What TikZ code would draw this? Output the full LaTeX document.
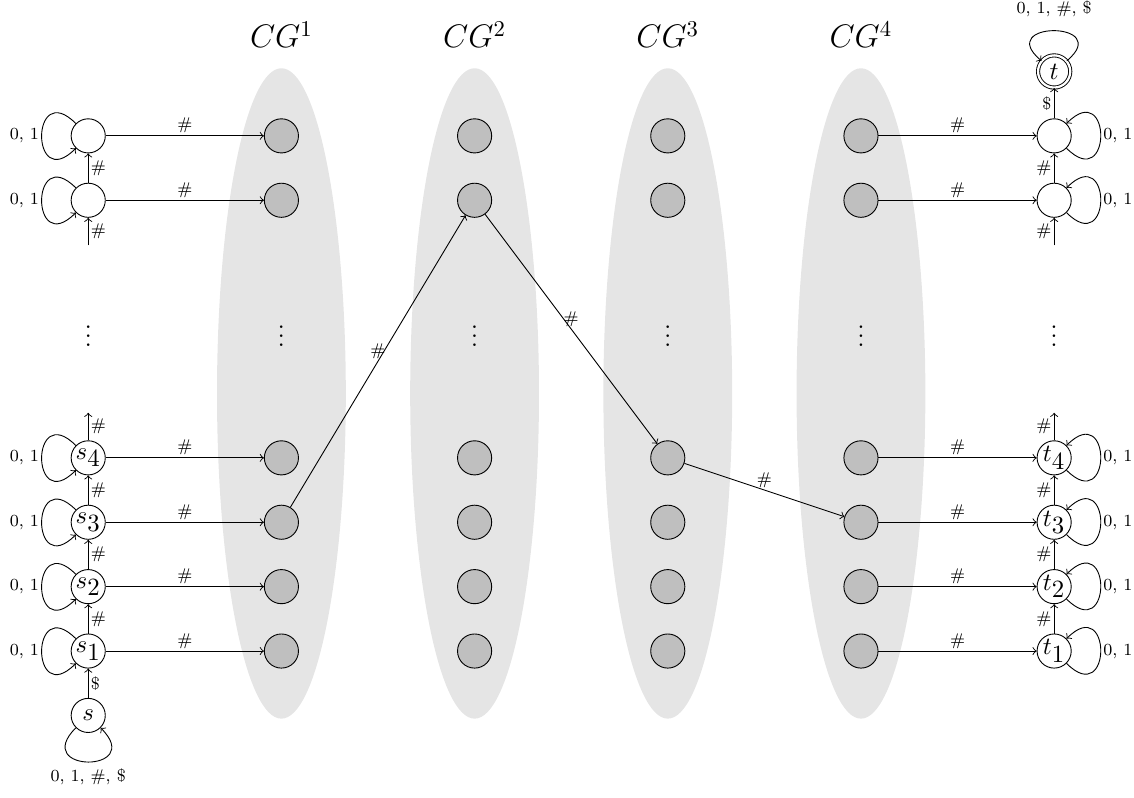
\documentclass[12pt,tikz,border=0pt]{standalone}
\tikzset{
	st/.style={circle, draw, minimum size=5.3mm, inner sep=0pt, font=\small},
	cg/.style={st, fill=gray!50},
	lab/.style={font=\fontsize{7.5}{9}\selectfont, inner sep=1pt},
}
\begin{document}
\begin{tikzpicture}
	%%%%% START %%%%%
	\useasboundingbox (-1.37, -1.27) rectangle (16.24, 11.11);
	
	\fill[gray!20] (3, 5) ellipse (1 and 5.05);
	\fill[gray!20] (6, 5) ellipse (1 and 5.05);
	\fill[gray!20] (9, 5) ellipse (1 and 5.05);
	\fill[gray!20] (12, 5) ellipse (1 and 5.05);
	
	\node[font=\large] (h1) at (3, 10.57) {$CG^1$};
	\node[font=\large] (h2) at (6, 10.57) {$CG^2$};
	\node[font=\large] (h3) at (9, 10.57) {$CG^3$};
	\node[font=\large] (h4) at (12, 10.57) {$CG^4$};
	
	%%%%% left states %%%%%
	\node[st] (s) at (0, 0) {$s$};
	\node[st] (s1) at (0, 1) {$s_{\textstyle 1}$};
	\node[st] (s2) at (0, 2) {$s_{\textstyle 2}$};
	\node[st] (s3) at (0, 3) {$s_{\textstyle 3}$};
	\node[st] (s4) at (0, 4) {$s_{\textstyle 4}$};
	\node (d0) at (0, 6) {$\vdots$};
	\node[st] (u8) at (0, 8) {};
	\node[st] (u9) at (0, 9) {};
	\coordinate (lo) at (0, 4.7);
	\coordinate (li) at (0, 7.3);
	
	\draw[->] (s) -- node[lab, right] {\$} (s1);
	\draw[->] (s1) -- node[lab, right] {\#} (s2);
	\draw[->] (s2) -- node[lab, right] {\#} (s3);
	\draw[->] (s3) -- node[lab, right] {\#} (s4);
	\draw[->] (s4) -- node[lab, right] {\#} (lo);
	\draw[->] (li) -- node[lab, right] {\#} (u8);
	\draw[->] (u8) -- node[lab, right] {\#} (u9);
	
	\draw[->] (s.225) .. controls +(225:1) and +(-45:1) .. (s.-45) node[lab, below=2pt, midway] {0, 1, \#, \$};
	\draw[->] (s1.135) .. controls +(135:1) and +(225:1) .. (s1.225) node[lab, left, midway] {0, 1};
	\draw[->] (s2.135) .. controls +(135:1) and +(225:1) .. (s2.225) node[lab, left, midway] {0, 1};
	\draw[->] (s3.135) .. controls +(135:1) and +(225:1) .. (s3.225) node[lab, left, midway] {0, 1};
	\draw[->] (s4.135) .. controls +(135:1) and +(225:1) .. (s4.225) node[lab, left, midway] {0, 1};
	\draw[->] (u8.135) .. controls +(135:1) and +(225:1) .. (u8.225) node[lab, left, midway] {0, 1};
	\draw[->] (u9.135) .. controls +(135:1) and +(225:1) .. (u9.225) node[lab, left, midway] {0, 1};
	
	%%%%% CG columns %%%%%
	\node[cg] (g11) at (3, 1) {};
	\node[cg] (g12) at (3, 2) {};
	\node[cg] (g13) at (3, 3) {};
	\node[cg] (g14) at (3, 4) {};
	\node (d1) at (3, 6) {$\vdots$};
	\node[cg] (g18) at (3, 8) {};
	\node[cg] (g19) at (3, 9) {};
	
	\node[cg] (g21) at (6, 1) {};
	\node[cg] (g22) at (6, 2) {};
	\node[cg] (g23) at (6, 3) {};
	\node[cg] (g24) at (6, 4) {};
	\node (d2) at (6, 6) {$\vdots$};
	\node[cg] (g28) at (6, 8) {};
	\node[cg] (g29) at (6, 9) {};
	
	\node[cg] (g31) at (9, 1) {};
	\node[cg] (g32) at (9, 2) {};
	\node[cg] (g33) at (9, 3) {};
	\node[cg] (g34) at (9, 4) {};
	\node (d3) at (9, 6) {$\vdots$};
	\node[cg] (g38) at (9, 8) {};
	\node[cg] (g39) at (9, 9) {};
	
	\node[cg] (g41) at (12, 1) {};
	\node[cg] (g42) at (12, 2) {};
	\node[cg] (g43) at (12, 3) {};
	\node[cg] (g44) at (12, 4) {};
	\node (d4) at (12, 6) {$\vdots$};
	\node[cg] (g48) at (12, 8) {};
	\node[cg] (g49) at (12, 9) {};
	
	%%%%% right states %%%%%
	\node[st] (t1) at (15, 1) {$t_{\textstyle 1}$};
	\node[st] (t2) at (15, 2) {$t_{\textstyle 2}$};
	\node[st] (t3) at (15, 3) {$t_{\textstyle 3}$};
	\node[st] (t4) at (15, 4) {$t_{\textstyle 4}$};
	\node (d5) at (15, 6) {$\vdots$};
	\node[st] (v8) at (15, 8) {};
	\node[st] (v9) at (15, 9) {};
	\node[st, minimum size=5mm, double, double distance=1pt] (t) at (15, 10) {$t$};
	\coordinate (ro) at (15, 4.7);
	\coordinate (ri) at (15, 7.3);
	
	\draw[->] (t1) -- node[lab, left] {\#} (t2);
	\draw[->] (t2) -- node[lab, left] {\#} (t3);
	\draw[->] (t3) -- node[lab, left] {\#} (t4);
	\draw[->] (t4) -- node[lab, left] {\#} (ro);
	\draw[->] (ri) -- node[lab, left] {\#} (v8);
	\draw[->] (v8) -- node[lab, left] {\#} (v9);
	\draw[->] (v9) -- node[lab, left] {\$} (t);
	
	\draw[->] (t1.-45) .. controls +(-45:1) and +(45:1) .. (t1.45) node[lab, right, midway] {0, 1};
	\draw[->] (t2.-45) .. controls +(-45:1) and +(45:1) .. (t2.45) node[lab, right, midway] {0, 1};
	\draw[->] (t3.-45) .. controls +(-45:1) and +(45:1) .. (t3.45) node[lab, right, midway] {0, 1};
	\draw[->] (t4.-45) .. controls +(-45:1) and +(45:1) .. (t4.45) node[lab, right, midway] {0, 1};
	\draw[->] (v8.-45) .. controls +(-45:1) and +(45:1) .. (v8.45) node[lab, right, midway] {0, 1};
	\draw[->] (v9.-45) .. controls +(-45:1) and +(45:1) .. (v9.45) node[lab, right, midway] {0, 1};
	\draw[->] (t.40) .. controls +(40:0.97) and +(140:0.97) .. (t.140) node[lab, above=5pt, midway] {0, 1, \#, \$};
	
	%%%%% into and out of the CGs %%%%%
	\draw[->] (s1) -- node[lab, above] {\#} (g11);
	\draw[->] (s2) -- node[lab, above] {\#} (g12);
	\draw[->] (s3) -- node[lab, above] {\#} (g13);
	\draw[->] (s4) -- node[lab, above] {\#} (g14);
	\draw[->] (u8) -- node[lab, above] {\#} (g18);
	\draw[->] (u9) -- node[lab, above] {\#} (g19);
	
	\draw[->] (g41) -- node[lab, above] {\#} (t1);
	\draw[->] (g42) -- node[lab, above] {\#} (t2);
	\draw[->] (g43) -- node[lab, above] {\#} (t3);
	\draw[->] (g44) -- node[lab, above] {\#} (t4);
	\draw[->] (g48) -- node[lab, above] {\#} (v8);
	\draw[->] (g49) -- node[lab, above] {\#} (v9);
	
	\draw[->] (g13) -- node[lab, above] {\#} (g28);
	\draw[->] (g28) -- node[lab, above] {\#} (g34);
	\draw[->] (g34) -- node[lab, above] {\#} (g43);
	
	%%%%% END %%%%%
\end{tikzpicture}
\end{document}
